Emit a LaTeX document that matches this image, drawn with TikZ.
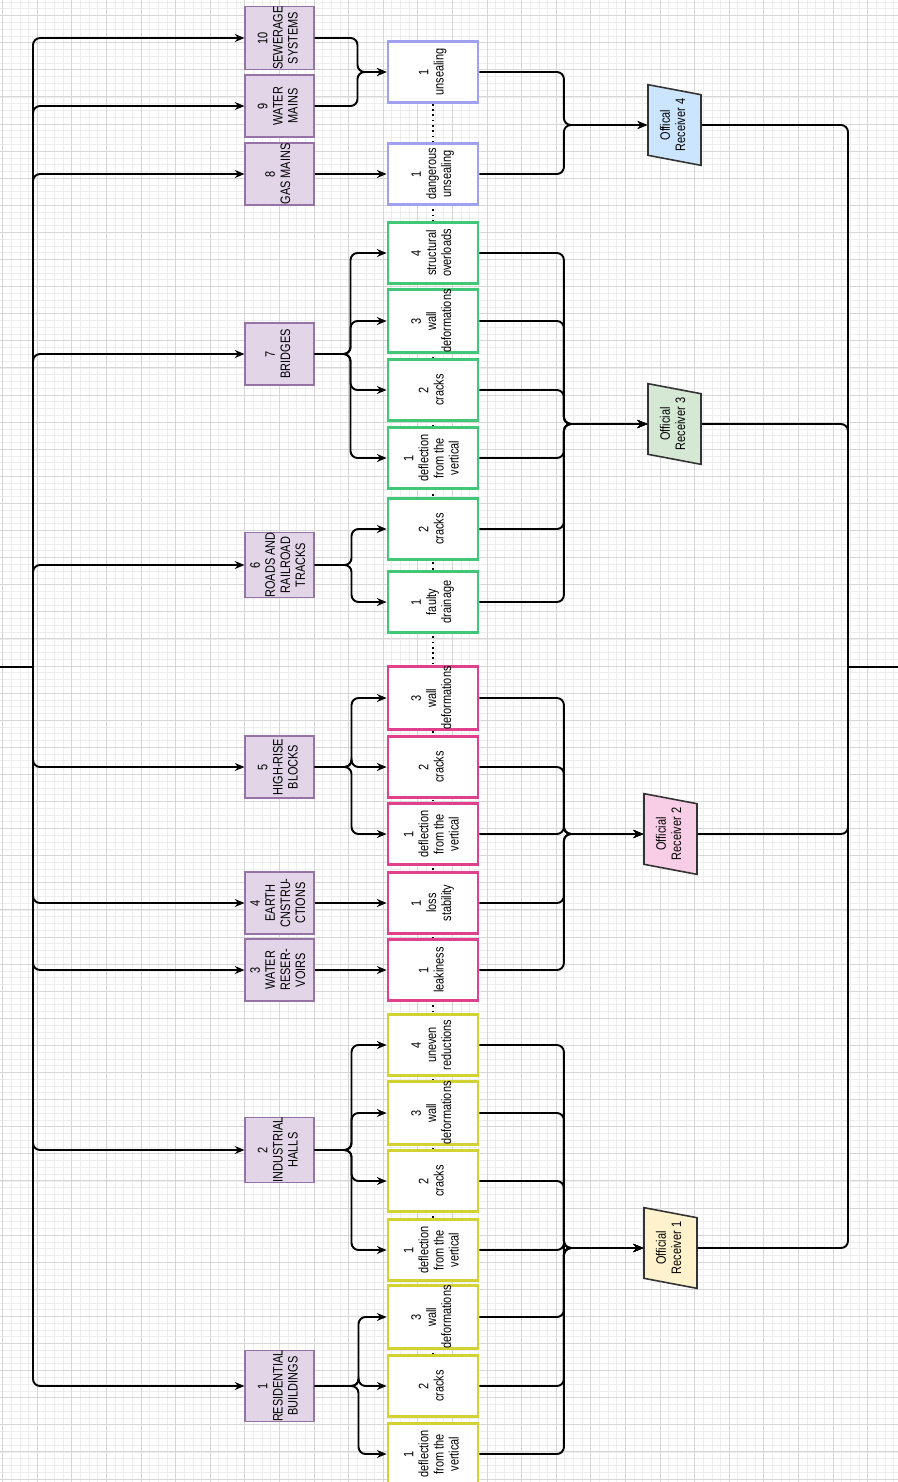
\documentclass[tikz,border=0pt]{standalone}
\usepackage{fontspec}
\setmainfont{Liberation Sans}
\usepackage{graphicx}
\usetikzlibrary{arrows.meta,positioning,calc,shapes.geometric,backgrounds}

\definecolor{catfill}{HTML}{E1D5E7}
\definecolor{catline}{HTML}{9673A6}
\definecolor{blueline}{HTML}{A0A0F0}
\definecolor{greenline}{HTML}{40C878}
\definecolor{pinkline}{HTML}{E0408C}
\definecolor{yellowline}{HTML}{D2D232}
\definecolor{recvblue}{HTML}{CCE5FF}
\definecolor{recvgreen}{HTML}{D5E8D4}
\definecolor{recvpink}{HTML}{F8CDE6}
\definecolor{recvyellow}{HTML}{FFF2CC}

\newcommand{\htext}[1]{\scalebox{0.8}[1]{\begin{tabular}{@{}c@{}}#1\end{tabular}}}
\newcommand{\vtext}[1]{\rotatebox{90}{\htext{#1}}}

\begin{document}
\begin{tikzpicture}[
  x=0.02cm, y=-0.02cm,
  font=\fontsize{7.8}{8.6}\selectfont,
  cat/.style={draw=catline, fill=catfill, line width=0.6pt, minimum width=1.38cm, minimum height=1.24cm, inner sep=0pt},
  defect/.style={fill=white, line width=1.6pt, minimum width=1.8cm, minimum height=1.22cm, inner sep=0pt},
  recv/.style={trapezium, trapezium left angle=74, trapezium right angle=106, trapezium stretches=true,
    rotate=90, draw=black!80, line width=0.9pt, minimum width=1.62cm, minimum height=1.06cm, inner sep=0pt},
  wire/.style={line width=1.1pt, rounded corners=4pt},
  arr/.style={wire, -{Stealth[length=5.5pt,width=4.5pt]}},
  gridmaj/.style={draw=black!16, line width=0.45pt},
  gridmin/.style={draw=black!7, line width=0.3pt}
]
\useasboundingbox (0,0) rectangle (898,1482);
\begin{pgfonlayer}{background}
  \fill[white] (0,0) rectangle (898,1482);
  \foreach \k in {0,...,103} \draw[gridmin] ({2.5+8.65*\k},0) -- ++(0,1482);
  \foreach \k in {-2,...,216} \draw[gridmin] (0,{15.5+6.775*\k}) -- ++(898,0);
  \foreach \k in {0,...,25} \draw[gridmaj] ({2.5+34.6*\k},0) -- ++(0,1482);
  \foreach \k in {0,...,54} \draw[gridmaj] (0,{15.5+27.1*\k}) -- ++(898,0);
\end{pgfonlayer}

% object categories
\node[cat] (c10) at (279.5,38) {\vtext{10\\SEWERAGE\\SYSTEMS}};
\node[cat] (c9) at (279.5,106) {\vtext{9\\WATER\\MAINS}};
\node[cat] (c8) at (279.5,174) {\vtext{8\\GAS MAINS}};
\node[cat] (c7) at (279.5,354) {\vtext{7\\BRIDGES}};
\node[cat] (c6) at (279.5,565) {\vtext{6\\ROADS AND\\RAILROAD\\TRACKS}};
\node[cat] (c5) at (279.5,767) {\vtext{5\\HIGH-RISE\\BLOCKS}};
\node[cat] (c4) at (279.5,903) {\vtext{4\\EARTH\\CNSTRU-\\CTIONS}};
\node[cat] (c3) at (279.5,970) {\vtext{3\\WATER\\RESER-\\VOIRS}};
\node[cat] (c2) at (279.5,1150) {\vtext{2\\INDUSTRIAL\\HALLS}};
\node[cat] (c1) at (279.5,1386) {\vtext{1\\RESIDENTIAL\\BUILDINGS}};

% defects
\node[defect, draw=blueline] (d10a) at (433,72) {\vtext{1\\unsealing}};
\node[defect, draw=blueline] (d8a) at (433,174) {\vtext{1\\dangerous\\unsealing}};
\node[defect, draw=greenline] (d7d) at (433,253) {\vtext{4\\structural\\overloads}};
\node[defect, draw=greenline] (d7c) at (433,321) {\vtext{3\\wall\\deformations}};
\node[defect, draw=greenline] (d7b) at (433,390) {\vtext{2\\cracks}};
\node[defect, draw=greenline] (d7a) at (433,458) {\vtext{1\\deflection\\from the\\vertical}};
\node[defect, draw=greenline] (d6b) at (433,529) {\vtext{2\\cracks}};
\node[defect, draw=greenline] (d6a) at (433,602) {\vtext{1\\faulty\\drainage}};
\node[defect, draw=pinkline] (d5c) at (433,698) {\vtext{3\\wall\\deformations}};
\node[defect, draw=pinkline] (d5b) at (433,767) {\vtext{2\\cracks}};
\node[defect, draw=pinkline] (d5a) at (433,834) {\vtext{1\\deflection\\from the\\vertical}};
\node[defect, draw=pinkline] (d4a) at (433,903) {\vtext{1\\loss\\stability}};
\node[defect, draw=pinkline] (d3a) at (433,970) {\vtext{1\\leakiness}};
\node[defect, draw=yellowline] (d2d) at (433,1045) {\vtext{4\\uneven\\reductions}};
\node[defect, draw=yellowline] (d2c) at (433,1113) {\vtext{3\\wall\\deformations}};
\node[defect, draw=yellowline] (d2b) at (433,1181) {\vtext{2\\cracks}};
\node[defect, draw=yellowline] (d2a) at (433,1250) {\vtext{1\\deflection\\from the\\vertical}};
\node[defect, draw=yellowline] (d1c) at (433,1317) {\vtext{3\\wall\\deformations}};
\node[defect, draw=yellowline] (d1b) at (433,1386) {\vtext{2\\cracks}};
\node[defect, draw=yellowline] (d1a) at (433,1454) {\vtext{1\\deflection\\from the\\vertical}};

% receivers
\node[recv, fill=recvblue] (r4) at (674.5,125) {\htext{Offical\\Receiver 4}};
\node[recv, fill=recvgreen] (r3) at (674.5,424) {\htext{Official\\Receiver 3}};
\node[recv, fill=recvpink] (r2) at (670.5,834) {\htext{Official\\Receiver 2}};
\node[recv, fill=recvyellow] (r1) at (670.5,1248) {\htext{Official\\Receiver 1}};

\coordinate (root) at (0,667);
\coordinate (rj) at (33,667);
\coordinate (fj) at (848,667);
\coordinate (out) at (898,667);

\begin{pgfonlayer}{background}
  \draw[dotted, line width=1pt] (d10a) -- (d1a);
\end{pgfonlayer}

% root to categories
\draw[wire] (root) -- (rj);
\foreach \c in {c1,c2,c3,c4,c5,c6,c7,c8,c9,c10} \draw[arr] (rj) |- (\c.west);

% categories to defects
\foreach \c/\d/\s in {c1/d1a/44,c1/d1b/44,c1/d1c/44,c2/d2a/37,c2/d2b/37,c2/d2c/37,c2/d2d/37,
    c5/d5a/37,c5/d5b/37,c5/d5c/37,c6/d6a/37,c6/d6b/37,c7/d7a/36,c7/d7b/36,c7/d7c/36,c7/d7d/36,
    c9/d10a/43,c10/d10a/43}
  \draw[arr] (\c.east) -- ++(\s,0) |- (\d.west);
\foreach \c/\d in {c3/d3a,c4/d4a,c8/d8a} \draw[arr] (\c.east) -- (\d.west);

% defects to receivers
\foreach \d/\r in {d10a/r4,d8a/r4,d7a/r3,d7b/r3,d7c/r3,d7d/r3,d6a/r3,d6b/r3,
    d5a/r2,d5b/r2,d5c/r2,d4a/r2,d3a/r2,d2a/r1,d2b/r1,d2c/r1,d2d/r1,d1a/r1,d1b/r1,d1c/r1}
  \draw[arr] (\d.east) -- ++(84.5,0) |- (\r.north |- \r.center);

% receivers to the output
\foreach \r in {r1,r2,r3,r4} \draw[wire] (\r.south |- \r.center) -| (fj);
\draw[wire] (fj) -- (out);
\end{tikzpicture}
\end{document}
